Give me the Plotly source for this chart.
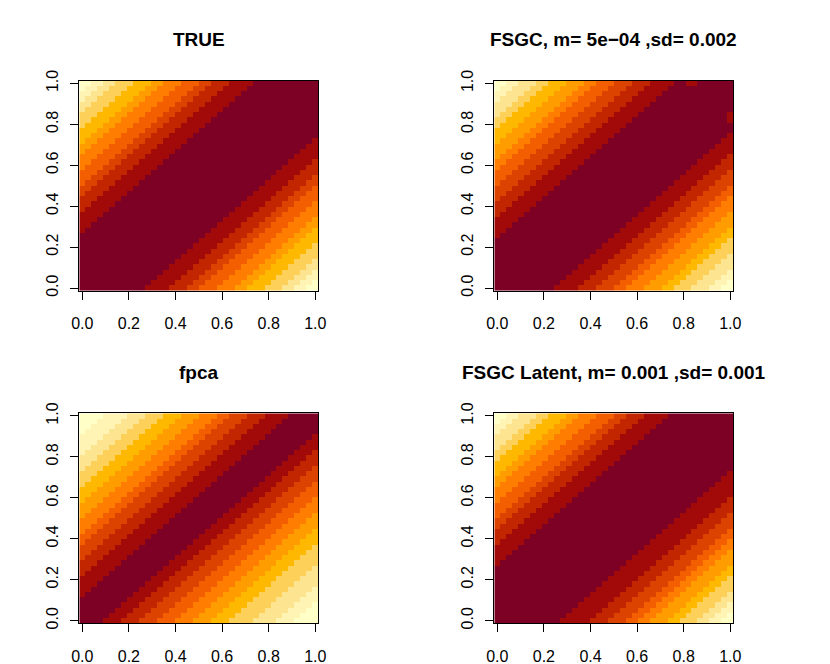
import numpy as np
import plotly.graph_objects as go

# panel titles, in drawing order (top-left, top-right, bottom-left, bottom-right)
titles = ["TRUE", "FSGC, m= 5e\u221204 ,sd= 0.002", "fpca", "FSGC Latent, m= 0.001 ,sd= 0.001"]

# 40 x 40 grid on [0, 1]
n_grid = 40
tick_vals = [0.0, 0.2, 0.4, 0.6, 0.8, 1.0]
tick_text = ["0.0", "0.2", "0.4", "0.6", "0.8", "1.0"]

# cell offset from the diagonal where colour levels 2..12 start
# upper = above the diagonal (y > x), lower = below it
true_upper = [11, 15, 18, 20, 23, 26, 28, 31, 34, 36, 38]
true_lower = [11, 15, 18, 20, 23, 26, 28, 31, 34, 36, 38]
fsgc_upper = [10, 14, 17, 20, 23, 25, 28, 31, 33, 36, 38]
fsgc_lower = [10, 14, 17, 20, 22, 25, 28, 30, 33, 36, 38]
fpca_upper = [5, 9, 12, 15, 17, 20, 23, 26, 29, 32, 36]
fpca_lower = [4, 7, 10, 13, 16, 19, 22, 25, 29, 33, 36]
latent_upper = [11, 15, 18, 20, 23, 26, 28, 31, 33, 36, 38]
latent_lower = [11, 16, 19, 22, 24, 26, 29, 31, 34, 36, 38]

# odd level-2 cells in the FSGC panel, (row, col)
fsgc_spots = [(39, 32), (39, 33), (32, 39), (33, 39)]


def hcl_hex(h, c, l):
    # grDevices hcl() -> sRGB
    hr = np.deg2rad(h)
    U, V = c * np.cos(hr), c * np.sin(hr)
    Y = 100 * (((l + 16) / 116) ** 3 if l > 7.999592 else l / 903.3)
    u = U / (13 * l) + 0.1978398
    v = V / (13 * l) + 0.4683363
    X = 9 * Y * u / (4 * v)
    Z = -X / 3 - 5 * Y + 3 * Y / v
    lin = [(3.240479 * X - 1.537150 * Y - 0.498535 * Z) / 100,
           (-0.969256 * X + 1.875992 * Y + 0.041556 * Z) / 100,
           (0.055648 * X - 0.204043 * Y + 1.057311 * Z) / 100]
    out = []
    for t in lin:
        g = 1.055 * t ** (1 / 2.4) - 0.055 if t > 0.00304 else 12.92 * t
        out.append(int(round(255 * min(1.0, max(0.0, g)))))
    return "#%02X%02X%02X" % tuple(out)


# hcl.colors(12, "YlOrRd"), dark -> light
h1, h2, c1, c2, cmax, l1, l2, p1, p2 = 5, 85, 75, 40, 180, 25, 99, 1.6, 1.3
jj = 1 / (1 + abs(cmax - c1) / abs(cmax - c2))
palette = []
for i in np.linspace(1, 0, 12):
    if i <= jj:
        cc = c2 - (c2 - cmax) * (i / jj) ** p1
    else:
        cc = cmax - (cmax - c1) * ((i - jj) / (1 - jj)) ** p1
    palette.append(hcl_hex(h2 - (h2 - h1) * i, cc, l2 - (l2 - l1) * i ** p2))

colorscale = []
for k, col in enumerate(palette):
    colorscale.append([k / 12, col])
    colorscale.append([(k + 1) / 12, col])


def levels(upper, lower, spots=()):
    r, c = np.indices((n_grid, n_grid))
    d = r - c
    up = 1 + np.searchsorted(upper, d, side="right")
    lo = 1 + np.searchsorted(lower, -d, side="right")
    z = np.where(d >= 0, up, lo)
    for rr, cc in spots:
        z[rr, cc] = 2
    return z


panels = [levels(true_upper, true_lower),
          levels(fsgc_upper, fsgc_lower, fsgc_spots),
          levels(fpca_upper, fpca_lower),
          levels(latent_upper, latent_lower)]

grid = np.linspace(0, 1, n_grid)
W, H = 830, 664
off = 8  # the page body margin moves the figure by this much
# plot boxes in window pixels: left, right, top, bottom
boxes = [(79.3, 318.3, 80.7, 290.7), (494.3, 733.3, 80.7, 290.7),
         (79.3, 318.3, 413.3, 623.3), (494.3, 733.3, 413.3, 623.3)]

fig = go.Figure()
half = 0.5 / (n_grid - 1)
axis_style = dict(
    range=[-half, 1 + half], showline=True, linecolor="black", linewidth=1,
    mirror=True, ticks="outside", ticklen=8, tickcolor="black", tickwidth=1,
    tickvals=tick_vals, ticktext=tick_text, showgrid=False, zeroline=False,
    tickfont=dict(family="Liberation Sans", size=16, color="black"),
    fixedrange=True, automargin=False,
)
layout = {}
annotations = []
for k, (z, box, title) in enumerate(zip(panels, boxes, titles)):
    sfx = "" if k == 0 else str(k + 1)
    fig.add_trace(go.Heatmap(
        x=grid, y=grid, z=z, colorscale=colorscale, zmin=0.5, zmax=12.5,
        showscale=False, xaxis="x" + sfx, yaxis="y" + sfx, hoverinfo="skip",
    ))
    l, r, t, b = (v - off for v in box)
    layout["xaxis" + sfx] = dict(axis_style, domain=[l / W, r / W], anchor="y" + sfx,
                                 ticklabelstandoff=10)
    layout["yaxis" + sfx] = dict(axis_style, domain=[1 - b / H, 1 - t / H], anchor="x" + sfx,
                                 tickangle=-90, ticklabelstandoff=6)
    annotations.append(dict(
        text="<b>" + title + "</b>", x=(l + r) / 2 / W, y=1 - (t - 41) / H,
        xref="paper", yref="paper", xanchor="center", yanchor="middle",
        showarrow=False, font=dict(family="Liberation Sans", size=19, color="black"),
    ))

fig.update_layout(
    template="none",
    width=W, height=H, margin=dict(l=0, r=0, t=0, b=0),
    paper_bgcolor="white", plot_bgcolor="white", showlegend=False,
    annotations=annotations, **layout,
)
fig.write_html("out.html")
